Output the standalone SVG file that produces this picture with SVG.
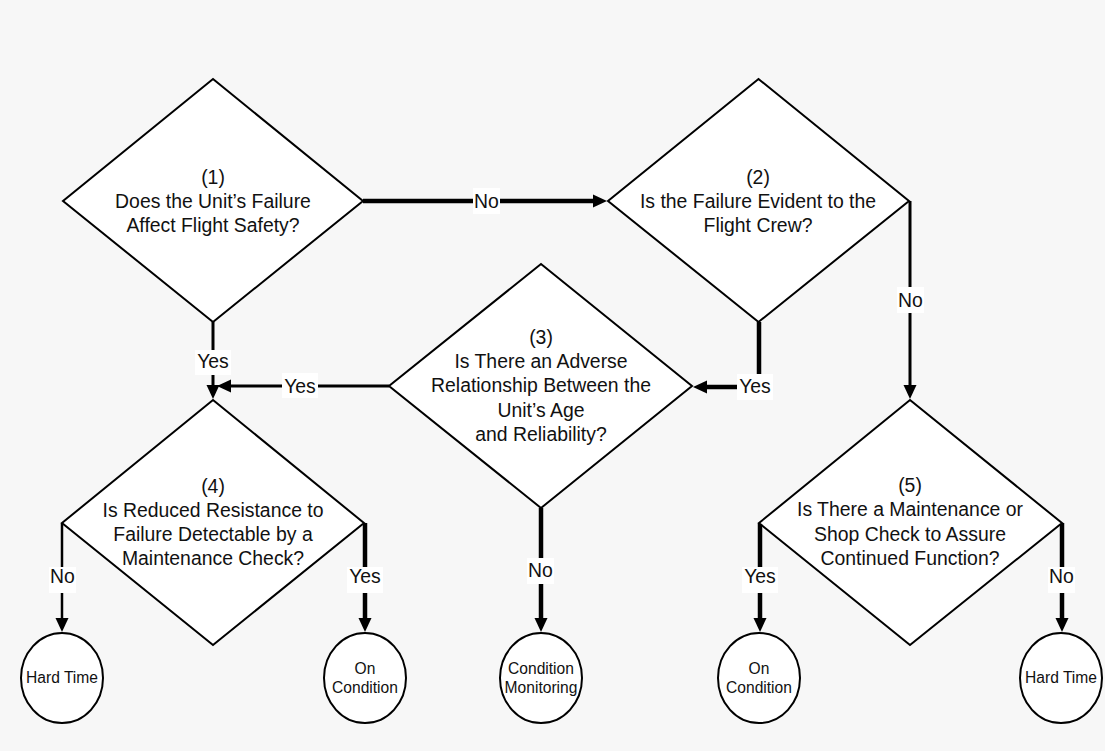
<svg xmlns="http://www.w3.org/2000/svg" width="1105" height="751" viewBox="0 0 1105 751">
<style>
.d{fill:#fff;stroke:#000;stroke-width:2;stroke-linejoin:miter}
.c{fill:#fff;stroke:#000;stroke-width:2}
.t{font-family:"Liberation Sans",Arial,sans-serif;font-size:19.4px;fill:#111;text-anchor:middle}
.s{font-family:"Liberation Sans",Arial,sans-serif;font-size:15.6px;fill:#111;text-anchor:middle}
.k{fill:none;stroke:#000;stroke-width:4.5;marker-end:url(#ah)}
.m{fill:none;stroke:#000;stroke-width:3;marker-end:url(#ah)}
.n{fill:none;stroke:#000;stroke-width:2.5;marker-end:url(#ah)}
.lb{fill:#fff}
</style>
<defs>
<marker id="ah" markerUnits="userSpaceOnUse" markerWidth="14" markerHeight="13" refX="4" refY="6.5" orient="auto" overflow="visible"><path d="M0,0 L14,6.5 L0,13 z" fill="#000"/></marker>
</defs>
<rect width="1105" height="751" fill="#f7f7f7"/>
<g id="connectors">
<path class="k" d="M363,201 H597"/>
<path class="m" d="M213,322 V389"/>
<path class="m" d="M389,386 H227"/>
<path class="k" d="M759,322 V387 H703"/>
<path class="m" d="M910,201 V389"/>
<path class="k" d="M541,508 V622"/>
<path class="n" d="M62,523 V622"/>
<path class="k" d="M365,523 V622"/>
<path class="k" d="M760,523 V622"/>
<path class="k" d="M1062,523 V622"/>
<rect class="lb" x="473" y="188" width="27" height="26"/><text class="t" x="486.5" y="207.5">No</text>
<rect class="lb" x="195" y="350" width="36" height="25"/><text class="t" x="213" y="368">Yes</text>
<rect class="lb" x="282" y="373" width="36" height="25"/><text class="t" x="300" y="393">Yes</text>
<rect class="lb" x="737" y="374" width="36" height="26"/><text class="t" x="755" y="393">Yes</text>
<rect class="lb" x="897" y="287" width="27" height="26"/><text class="t" x="910.5" y="307">No</text>
<rect class="lb" x="527" y="558" width="27" height="26"/><text class="t" x="540.5" y="577">No</text>
<rect class="lb" x="49" y="567" width="27" height="26"/><text class="t" x="62.5" y="583">No</text>
<rect class="lb" x="347" y="567" width="36" height="26"/><text class="t" x="365" y="583">Yes</text>
<rect class="lb" x="742" y="567" width="36" height="26"/><text class="t" x="760" y="583">Yes</text>
<rect class="lb" x="1048" y="567" width="27" height="26"/><text class="t" x="1061.5" y="583">No</text>
</g>
<g id="node1">
<polygon class="d" points="213,79 363,201 213,322 63,201"/>
<text class="t" x="213" y="184">(1)</text>
<text class="t" x="213" y="208">Does the Unit’s Failure</text>
<text class="t" x="213" y="232">Affect Flight Safety?</text>
</g>
<g id="node2">
<polygon class="d" points="758.5,79 909,201 758.5,322 608,201"/>
<text class="t" x="758" y="184">(2)</text>
<text class="t" x="758" y="208">Is the Failure Evident to the</text>
<text class="t" x="758" y="232">Flight Crew?</text>
</g>
<g id="node3">
<polygon class="d" points="541,264 692,386 541,508 389,386"/>
<text class="t" x="541" y="344">(3)</text>
<text class="t" x="541" y="368">Is There an Adverse</text>
<text class="t" x="541" y="392">Relationship Between the</text>
<text class="t" x="541" y="417">Unit’s Age</text>
<text class="t" x="541" y="441">and Reliability?</text>
</g>
<g id="node4">
<polygon class="d" points="213,400 364,523 213,645 62,523"/>
<text class="t" x="213" y="493">(4)</text>
<text class="t" x="213" y="517">Is Reduced Resistance to</text>
<text class="t" x="213" y="541">Failure Detectable by a</text>
<text class="t" x="213" y="565">Maintenance Check?</text>
</g>
<g id="node5">
<polygon class="d" points="910,400 1062,523 910,645 759,523"/>
<text class="t" x="910" y="492">(5)</text>
<text class="t" x="910" y="516">Is There a Maintenance or</text>
<text class="t" x="910" y="541">Shop Check to Assure</text>
<text class="t" x="910" y="565">Continued Function?</text>
</g>
<g id="hardtime1">
<ellipse class="c" cx="62" cy="678" rx="41" ry="45"/>
<text class="s" x="62" y="683">Hard Time</text>
</g>
<g id="oncondition1">
<ellipse class="c" cx="365" cy="678" rx="41" ry="45"/>
<text class="s" x="365" y="674">On</text>
<text class="s" x="365" y="693">Condition</text>
</g>
<g id="conditionmonitoring">
<ellipse class="c" cx="541" cy="678" rx="41" ry="45"/>
<text class="s" x="541" y="674">Condition</text>
<text class="s" x="541" y="693">Monitoring</text>
</g>
<g id="oncondition2">
<ellipse class="c" cx="759" cy="678" rx="41" ry="45"/>
<text class="s" x="759" y="674">On</text>
<text class="s" x="759" y="693">Condition</text>
</g>
<g id="hardtime2">
<ellipse class="c" cx="1061" cy="678" rx="41" ry="45"/>
<text class="s" x="1061" y="683">Hard Time</text>
</g>
</svg>
